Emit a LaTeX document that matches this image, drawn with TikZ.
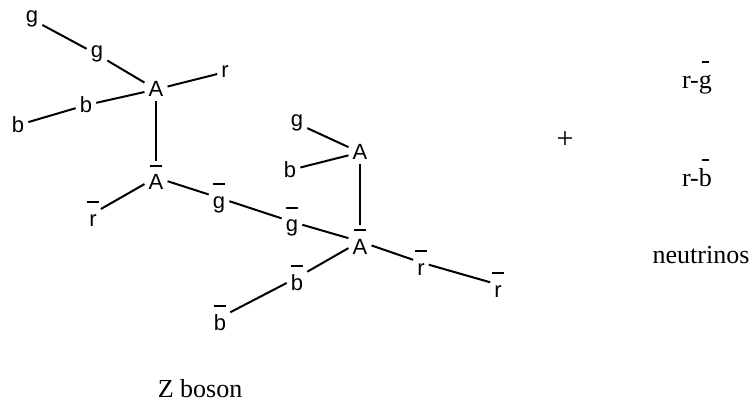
\documentclass[tikz,border=0pt]{standalone}
\usepackage{fontspec}
\setmainfont{Liberation Serif}
\newfontfamily\lsans{Liberation Sans}
\newcommand\ob[1]{\setbox0=\hbox{#1}\hbox to\wd0{\hss\raisebox{23pt}{\rule{12pt}{2pt}}\hss}\hskip-\wd0\box0}
\newcommand\obs[1]{\setbox0=\hbox{#1}\hbox to\wd0{\hss\raisebox{26pt}{\rule{7pt}{2.2pt}}\hss}\hskip-\wd0\box0}
\begin{document}
\begin{tikzpicture}[x=1pt,y=-1pt,
  lab/.style={font=\fontsize{22}{22}\selectfont\lsans, inner sep=4pt, anchor=base},
  txt/.style={font=\fontsize{26}{26}\selectfont, inner sep=0pt, anchor=base},
  ln/.style={line width=2pt}]
\useasboundingbox (0,0) rectangle (752,406);
% left cluster
\node[lab] (g1) at (32,23) {g};
\node[lab] (g2) at (97,58) {g};
\node[lab] (A1) at (156,97) {A};
\node[lab] (r1) at (225,78) {r};
\node[lab] (b1) at (86,113) {b};
\node[lab] (b2) at (18,133) {b};
\node[lab] (Ab1) at (156,190) {\ob{A}};
\node[lab] (rb1) at (93,226) {\ob{r}};
\node[lab] (gb1) at (219,208) {\ob{g}};
% right cluster
\node[lab] (g3) at (297,127) {g};
\node[lab] (A2) at (360,160) {A};
\node[lab] (b3) at (290,178) {b};
\node[lab] (gb2) at (292,232) {\ob{g}};
\node[lab] (Ab2) at (360,254) {\ob{A}};
\node[lab] (rb2) at (421,275) {\ob{r}};
\node[lab] (rb3) at (498,297) {\ob{r}};
\node[lab] (bb1) at (297,290) {\ob{b}};
\node[lab] (bb2) at (220,330) {\ob{b}};
% connectors
\draw[ln] (g1) -- (g2);
\draw[ln] (g2) -- (A1);
\draw[ln] (A1) -- (r1);
\draw[ln] (b1) -- (A1);
\draw[ln] (b2) -- (b1);
\draw[ln] (A1) -- (Ab1);
\draw[ln] (Ab1) -- (rb1);
\draw[ln] (Ab1) -- (gb1);
\draw[ln] (gb1) -- (gb2);
\draw[ln] (gb2) -- (Ab2);
\draw[ln] (g3) -- (A2);
\draw[ln] (b3) -- (A2);
\draw[ln] (A2) -- (Ab2);
\draw[ln] (Ab2) -- (rb2);
\draw[ln] (rb2) -- (rb3);
\draw[ln] (Ab2) -- (bb1);
\draw[ln] (bb1) -- (bb2);
% texts
\node[font=\fontsize{30}{30}\selectfont, inner sep=0pt] (plus) at (565,140) {+};
\node[txt] (rg) at (697,89) {r-\obs{g}};
\node[txt] (rb) at (697,187) {r-\obs{b}};
\node[txt] (neu) at (701,263) {neutrinos};
\node[txt] (zb) at (200,397) {Z boson};
\end{tikzpicture}
\end{document}
